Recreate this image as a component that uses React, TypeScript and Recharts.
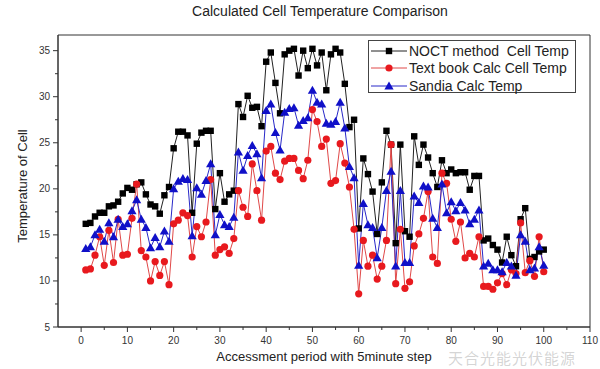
import React from 'react';
import { LineChart, Line, XAxis, YAxis, ReferenceArea, Legend } from 'recharts';

// values, one per 5 minute step
const noct = [16.2, 16.3, 17.0, 17.4, 17.4, 18.1, 18.2, 18.6, 19.5, 20.1, 19.9, 20.5, 20.7, 19.4, 18.3, 18.1, 17.3, 19.3, 20.2, 24.4, 26.2, 26.2, 25.8, 17.4, 24.9, 26.1, 26.3, 26.3, 17.8, 21.7, 18.6, 19.4, 19.8, 29.2, 27.8, 30.1, 28.8, 28.9, 26.8, 33.8, 34.8, 31.5, 28.2, 34.6, 35.0, 35.2, 32.3, 35.0, 33.1, 35.2, 33.4, 34.8, 30.7, 34.6, 35.2, 34.8, 31.4, 26.7, 27.5, 15.7, 23.3, 21.6, 19.7, 15.1, 20.7, 26.3, 24.8, 14.1, 24.8, 15.4, 14.8, 25.7, 22.6, 24.8, 23.4, 21.7, 20.2, 23.1, 21.7, 22.1, 21.7, 21.8, 21.8, 19.9, 21.4, 21.4, 14.4, 14.6, 13.9, 13.4, 12.0, 14.8, 12.8, 11.6, 16.7, 17.9, 12.4, 12.6, 13.2, 13.4];
const textbook = [11.2, 11.3, 12.8, 14.8, 11.7, 15.5, 12.0, 16.7, 12.8, 12.9, 16.8, 20.5, 13.3, 12.6, 10.0, 12.1, 10.6, 12.1, 9.6, 16.2, 16.6, 17.4, 17.1, 12.6, 15.9, 14.8, 16.4, 21.0, 12.8, 13.4, 13.7, 13.0, 14.6, 19.8, 18.0, 17.0, 22.7, 19.8, 16.6, 24.1, 24.6, 21.7, 21.0, 23.0, 23.3, 23.3, 22.0, 21.1, 23.1, 28.6, 27.3, 24.6, 25.4, 20.6, 20.9, 24.9, 22.8, 20.2, 15.6, 8.6, 14.4, 11.6, 12.8, 10.2, 11.6, 14.4, 24.8, 9.7, 15.6, 9.2, 9.9, 13.8, 15.1, 16.8, 19.7, 12.6, 11.9, 21.7, 20.6, 16.7, 14.3, 16.4, 12.5, 13.0, 12.6, 14.8, 9.4, 9.4, 9.1, 9.8, 10.8, 9.6, 11.2, 10.8, 16.3, 10.9, 12.2, 10.5, 14.8, 11.0];
const sandia = [13.5, 13.7, 15.0, 15.6, 14.3, 16.3, 14.8, 16.7, 15.9, 16.2, 17.6, 18.8, 16.7, 15.8, 13.6, 14.7, 13.7, 15.4, 14.3, 20.0, 20.8, 21.1, 21.0, 14.9, 20.1, 19.4, 20.9, 22.7, 15.0, 17.2, 16.1, 15.9, 16.9, 24.0, 22.0, 23.6, 24.7, 23.8, 21.2, 28.5, 29.2, 26.1, 24.2, 28.3, 28.7, 28.8, 26.9, 27.4, 27.7, 30.7, 29.4, 29.2, 27.1, 27.0, 27.3, 29.4, 26.6, 22.4, 21.2, 11.7, 18.4, 16.1, 15.8, 12.5, 15.8, 19.8, 21.9, 11.6, 19.8, 12.0, 12.0, 19.2, 18.5, 20.3, 20.2, 16.8, 15.8, 20.5, 17.4, 18.6, 17.6, 18.5, 17.7, 16.2, 16.7, 17.7, 11.6, 11.9, 11.2, 11.2, 11.0, 12.0, 11.6, 10.6, 15.0, 14.3, 11.2, 11.4, 13.7, 11.7];
const periods = noct.map((_, i) => i + 1);

const xTicks = [0, 5, 10, 15, 20, 25, 30, 35, 40, 45, 50, 55, 60, 65, 70, 75, 80, 85, 90, 95, 100, 105, 110];
const yTicks = [5, 7.5, 10, 12.5, 15, 17.5, 20, 22.5, 25, 27.5, 30, 32.5, 35];

const data = periods.map((p, i) => ({
  period: p,
  noct: noct[i],
  textbook: textbook[i],
  sandia: sandia[i],
}));

const FONT = '"Liberation Sans", Arial, sans-serif';
const AXIS = '#333';

const series = [
  { key: 'noct', name: 'NOCT method  Cell Temp', line: '#222', fill: '#000', shape: 'square' },
  { key: 'textbook', name: 'Text book Calc Cell Temp', line: '#e04848', fill: '#e8191e', shape: 'circle' },
  { key: 'sandia', name: 'Sandia Calc Temp', line: '#2828c8', fill: '#1010c8', shape: 'triangle' },
];

const marker = (shape: string, cx: number, cy: number, fill: string, key?: string) => {
  if (shape === 'square') return <rect key={key} x={cx - 3.2} y={cy - 3.2} width={6.4} height={6.4} fill={fill} />;
  if (shape === 'circle') return <circle key={key} cx={cx} cy={cy} r={3.6} fill={fill} />;
  return <polygon key={key} points={`${cx},${cy - 4.6} ${cx - 4.6},${cy + 3.4} ${cx + 4.6},${cy + 3.4}`} fill={fill} />;
};

const XTick = (props: any) => {
  const { x, y, payload } = props;
  const major = payload.value % 10 === 0;
  return (
    <g>
      <line x1={x} x2={x} y1={y} y2={y + (major ? 5 : 3)} stroke={AXIS} />
      {major && (
        <text x={x} y={y + 17} textAnchor="middle" fontSize={10} fontFamily={FONT} fill="#333">
          {payload.value}
        </text>
      )}
    </g>
  );
};

const YTick = (props: any) => {
  const { x, y, payload } = props;
  const major = payload.value % 5 === 0;
  return (
    <g>
      <line x1={x} x2={x - (major ? 5 : 3)} y1={y} y2={y} stroke={AXIS} />
      {major && (
        <text x={x - 8} y={y} dy="0.35em" textAnchor="end" fontSize={10} fontFamily={FONT} fill="#333">
          {payload.value}
        </text>
      )}
    </g>
  );
};

const renderLegend = () => (
  <div
    style={{
      border: '1px solid #444',
      background: '#fff',
      width: 208,
      height: 53,
      boxSizing: 'border-box',
      paddingTop: 1,
    }}
  >
    {series.map((s) => (
      <div key={s.key} style={{ display: 'flex', alignItems: 'center', height: 17.5 }}>
        <svg width={40} height={12} style={{ flex: 'none' }}>
          <line x1={2} x2={38} y1={6} y2={6} stroke={s.line} strokeWidth={1} />
          {marker(s.shape, 20, 6, s.fill)}
        </svg>
        <span style={{ fontFamily: FONT, fontSize: 14, color: '#222', whiteSpace: 'pre', lineHeight: '16px' }}>
          {s.name}
        </span>
      </div>
    ))}
  </div>
);

export default function App() {
  return (
    <div style={{ position: 'absolute', left: 0, top: 0, width: 600, height: 369, background: '#fff' }}>
      <div
        style={{
          position: 'absolute',
          left: 0,
          width: 640,
          top: 3,
          textAlign: 'center',
          fontFamily: FONT,
          fontSize: 14,
          color: '#222',
        }}
      >
        Calculated Cell Temperature Comparison
      </div>
      <LineChart width={600} height={369} data={data} margin={{ top: 35, right: 10, bottom: 0, left: 0 }}>
        <XAxis
          dataKey="period"
          type="number"
          domain={[-5, 110]}
          ticks={xTicks}
          interval={0}
          height={42}
          tickSize={0}
          tickMargin={0}
          tickLine={false}
          tick={<XTick />}
          axisLine={{ stroke: AXIS }}
          allowDataOverflow
        />
        <YAxis
          type="number"
          domain={[5, 36.7]}
          ticks={yTicks}
          interval={0}
          width={58}
          tickSize={0}
          tickMargin={0}
          tickLine={false}
          tick={<YTick />}
          axisLine={{ stroke: AXIS }}
          allowDataOverflow
        />
        <ReferenceArea x1={-5} x2={110} y1={5} y2={36.7} fill="none" stroke={AXIS} strokeWidth={1} ifOverflow="visible" />
        {series.map((s) => (
          <Line
            key={s.key}
            dataKey={s.key}
            name={s.name}
            stroke={s.line}
            strokeWidth={1}
            isAnimationActive={false}
            dot={(p: any) => marker(s.shape, p.cx, p.cy, s.fill, `${s.key}-${p.index}`)}
            activeDot={false}
          />
        ))}
        <Legend
          layout="vertical"
          align="center"
          verticalAlign="middle"
          content={renderLegend}
          wrapperStyle={{ position: 'absolute', left: 368, top: 40, width: 208, height: 53 }}
        />
      </LineChart>
      <div
        style={{
          position: 'absolute',
          left: 0,
          width: 648,
          top: 349,
          textAlign: 'center',
          fontFamily: FONT,
          fontSize: 13,
          color: '#222',
        }}
      >
        Accessment period with 5minute step
      </div>
      <div
        style={{
          position: 'absolute',
          left: 22,
          top: 186,
          transform: 'translate(-50%, -50%) rotate(-90deg)',
          whiteSpace: 'nowrap',
          fontFamily: FONT,
          fontSize: 13,
          color: '#222',
        }}
      >
        Temperature of Cell
      </div>
      <div
        style={{
          position: 'absolute',
          left: 448,
          top: 349,
          fontFamily: '"Noto Sans CJK SC", sans-serif',
          fontSize: 15,
          lineHeight: '17px',
          color: 'rgba(160,160,160,0.45)',
          letterSpacing: 1,
          pointerEvents: 'none',
        }}
      >
        天合光能光伏能源
      </div>
    </div>
  );
}
